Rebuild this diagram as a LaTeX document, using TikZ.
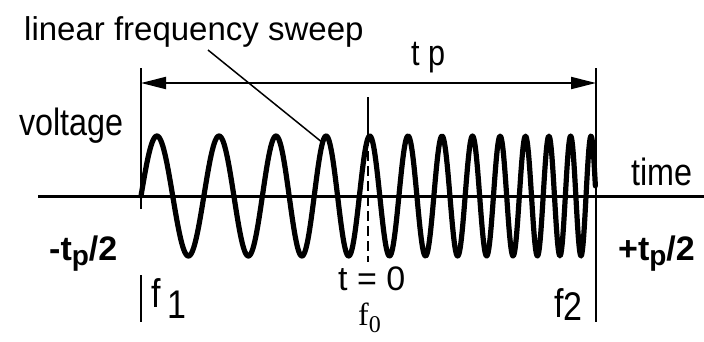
\documentclass[tikz,border=0pt]{standalone}
\usepackage{fontspec}
\setmainfont{Liberation Sans}
\newfontfamily\narrowsans[FakeStretch=0.85]{Liberation Sans}
\newfontfamily\serifrm{Liberation Serif}
\usetikzlibrary{positioning, arrows.meta, calc}

\begin{document}
\begin{tikzpicture}[
  x=1pt, y=-1pt,
  lbl/.style={inner sep=0pt, anchor=base west, font=\fontsize{33}{38}\selectfont},
  narrow/.style={inner sep=0pt, anchor=base west, font=\narrowsans\fontsize{38}{42}\selectfont},
  edge/.style={inner sep=0pt, anchor=base west, font=\bfseries\fontsize{34}{38}\selectfont},
  wave/.style={line width=5.2pt, line join=round, line cap=round},
  marker/.style={line width=2pt},
  arr/.style={{Triangle[length=25pt, width=12pt]}-{Triangle[length=25pt, width=12pt]}, line width=2pt},
]
  \useasboundingbox (0,0) rectangle (704,341);

  % axis, pulse limits and t = 0 marker
  \coordinate (axisL) at (38,196);
  \coordinate (axisR) at (704,196);
  \coordinate (startT) at (141,68);
  \coordinate (startB) at (141,209);
  \coordinate (f1T) at (141,275);
  \coordinate (f1B) at (141,322);
  \coordinate (stopT) at (596,68);
  \coordinate (stopB) at (596,322);
  \coordinate (tpL) at (141,83);
  \coordinate (tpR) at (596,83);
  \coordinate (zeroT) at (368,97);
  \coordinate (zeroP) at (368,136);
  \coordinate (zeroB) at (368,262);

  \draw[line width=3pt] (axisL) -- (axisR);
  \draw[marker] (startT) -- (startB);
  \draw[marker] (f1T) -- (f1B);
  \draw[marker] (stopT) -- (stopB);
  \draw[marker] (zeroT) -- (zeroP);
  \draw[marker, dash pattern=on 10pt off 5pt] (zeroP) -- (zeroB);
  \draw[arr] (tpL) -- (tpR);

  % the chirp itself
  \draw[wave] plot[domain=0:4.55, samples=700, variable=\v]
    ({141+100*\v}, {196-60*sin(566.7*\v - 4.14*\v*\v + 21.33*\v*\v*\v)});

  % labels
  \node[lbl] (sweep) at (24,40) {linear frequency sweep};
  \coordinate (leadS) at (208,50);
  \coordinate (leadE) at (323,143);
  \draw[line width=1.5pt] (leadS) -- (leadE);

  \node[narrow] (volt) at (19,135) {voltage};
  \node[narrow] (time) at (631,185) {time};
  \node[narrow, font=\narrowsans\fontsize{36}{40}\selectfont] (tp) at (411,65) {t p};
  \node[lbl, font=\fontsize{34}{38}\selectfont] (tzero) at (338,290) {t = 0};
  \node[narrow, font=\narrowsans\fontsize{40}{44}\selectfont] (fone) at (151,307) {f\,\raisebox{-11pt}{1}};
  \node[narrow, font=\narrowsans\fontsize{40}{44}\selectfont] (ftwo) at (554,317) {f\raisebox{-3pt}{2}};
  \node[edge] (tminus) at (49,260) {-t\raisebox{-5pt}{\fontsize{28}{28}\selectfont p}/2};
  \node[edge] (tplus) at (618,260) {+t\raisebox{-5pt}{\fontsize{28}{28}\selectfont p}/2};
  \node[inner sep=0pt, anchor=base west, font=\serifrm\fontsize{32}{36}\selectfont] (fzero) at (358,325) {f\raisebox{-7pt}{\fontsize{24}{24}\selectfont 0}};
\end{tikzpicture}
\end{document}
